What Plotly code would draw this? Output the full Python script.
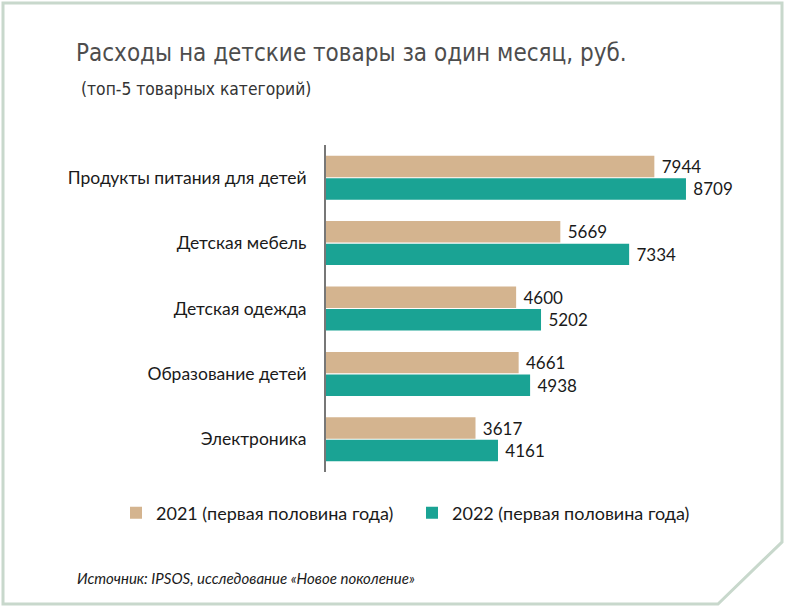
import plotly.graph_objects as go

categories = ["Продукты питания для детей", "Детская мебель", "Детская одежда",
              "Образование детей", "Электроника"]
values_2021 = [7944, 5669, 4600, 4661, 3617]
values_2022 = [8709, 7334, 5202, 4938, 4161]
series_names = ["2021 (первая половина года)", "2022 (первая половина года)"]

W, H = 789, 611
L, R, T, B = 326, 760, 145, 472

def px(x):
    return (x - L) / (R - L)

def py(y):
    return (B - y) / (B - T)

COND = "DejaVu Sans Condensed, Roboto, sans-serif"

fig = go.Figure()
fig.add_trace(go.Bar(y=categories, x=values_2021, orientation="h", name=series_names[0],
                     marker=dict(color="#d4b48f", line=dict(width=0)),
                     texttemplate=" %{x}", textposition="outside",
                     textfont=dict(size=17, color="#1a1a1a", family="Lato"), cliponaxis=False))
fig.add_trace(go.Bar(y=categories, x=values_2022, orientation="h", name=series_names[1],
                     marker=dict(color="#1aa394", line=dict(width=0)),
                     texttemplate=" %{x}", textposition="outside",
                     textfont=dict(size=17, color="#1a1a1a", family="Lato"), cliponaxis=False))

frame = "M {},{} L {},{} L {},{} L {},{} L {},{} L {},{} Z".format(
    px(3), py(3), px(782), py(3), px(782), py(542), px(718), py(604), px(3), py(604), px(3), py(3))

fig.update_layout(
    width=W, height=H,
    margin=dict(l=L, r=W - R, t=T, b=H - B),
    paper_bgcolor="white", plot_bgcolor="white",
    barmode="group", bargap=0.31, bargroupgap=0.05,
    showlegend=True,
    legend=dict(orientation="h", x=px(116), xanchor="left", y=py(513), yanchor="middle",
                font=dict(size=18, family="Lato", color="#1a1a1a"),
                itemwidth=30, traceorder="normal", entrywidth=251, entrywidthmode="pixels"),
    xaxis=dict(range=[0, 10500], visible=False),
    yaxis=dict(autorange="reversed", showline=True, linecolor="#777777", linewidth=2,
               ticks="", ticklabelstandoff=14,
               tickfont=dict(size=17.5, family="Lato", color="#1a1a1a")),
    shapes=[dict(type="path", path=frame, xref="paper", yref="paper",
                 line=dict(color="#c8d8cc", width=3), fillcolor="rgba(0,0,0,0)", layer="below")],
    annotations=[
        dict(text="Расходы на детские товары за один месяц, руб.", xref="paper", yref="paper",
             x=px(74), y=py(53), xanchor="left", yanchor="middle", showarrow=False,
             font=dict(size=24, family=COND, color="#4d4d4d")),
        dict(text="(топ-5 товарных категорий)", xref="paper", yref="paper",
             x=px(79), y=py(89), xanchor="left", yanchor="middle", showarrow=False,
             font=dict(size=17.3, family=COND, color="#333333")),
        dict(text="<i>Источник: IPSOS, исследование «Новое поколение»</i>", xref="paper", yref="paper",
             x=px(75), y=py(578), xanchor="left", yanchor="middle", showarrow=False,
             font=dict(size=15, family="Lato", color="#1a1a1a")),
    ],
)

fig.write_html("out.html")
